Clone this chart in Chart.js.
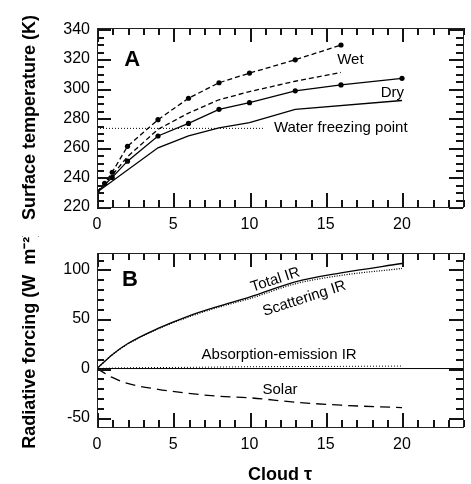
<!DOCTYPE html>
<html>
<head>
<meta charset="utf-8">
<script src="https://cdn.jsdelivr.net/npm/chart.js@4"></script>
<style>
  html, body { margin: 0; padding: 0; background: #fff; overflow: hidden; }
  #wrap { position: relative; width: 471px; height: 484px; }
  #chartA { position: absolute; left: 0; top: 0; }
  #chartB { position: absolute; left: 0; top: 236px; }
</style>
</head>
<body>
<div id="wrap">
  <canvas id="chartA" width="471" height="236"></canvas>
  <canvas id="chartB" width="471" height="248"></canvas>
</div>
<script>
// panel A: surface temperature vs cloud optical depth
const tauWetDots = [0, 0.5, 1, 2, 4, 6, 8, 10, 13, 16];
const tempWetDots = [230, 236, 243.5, 261, 279, 293.5, 304, 310.5, 319.5, 329.5];
const tauWet = [0, 1, 2, 4, 6, 8, 10, 13, 16];
const tempWet = [230, 241.5, 254, 272.5, 283.5, 292.5, 298, 305, 311];
const tauDryDots = [0, 1, 2, 4, 6, 8, 10, 13, 16, 20];
const tempDryDots = [230, 240, 251, 268, 276.5, 286, 290.5, 298.5, 302.5, 307];
const tauDry = [0, 4, 6, 8, 10, 13, 20];
const tempDry = [230, 260, 268, 273.5, 277, 286, 292];
const tauFreeze = [0, 11];
const tempFreeze = [273.15, 273.15];

// panel B: radiative forcing
const tauB = [0, 1, 2, 4, 6, 8, 10, 13, 16, 20];
const totalIR = [0, 14, 25, 40.5, 53, 63, 72, 87.5, 96.5, 106];
const scatIR = [0, 14, 24.5, 40, 52, 62, 70.5, 85.5, 94, 101];
const absIR = [0, 0.5, 0.8, 1, 1.2, 1.5, 1.8, 2, 2.2, 2.5];
const solar = [0, -9, -15, -21, -25, -28, -29.5, -34, -37, -39.5];
const tauZero = [0, 24];
const zeroLine = [0, 0];

// tick labels
const xTicks = [0, 5, 10, 15, 20];
const yTicksA = [220, 240, 260, 280, 300, 320, 340];
const yTicksB = [-50, 0, 50, 100];

const FONT = '"Liberation Sans", Arial, Helvetica, sans-serif';
Chart.defaults.font.family = FONT;
Chart.defaults.color = '#000';

const pts = (xs, ys) => xs.map((x, i) => ({ x: x, y: ys[i] }));

// inward ticks on all four sides + box + text labels
function frameTicks(cfg) {
  return {
    id: 'frameTicks',
    afterDraw(chart) {
      const ctx = chart.ctx;
      const area = chart.chartArea;
      const sx = chart.scales.x;
      const sy = chart.scales.y;
      const L = Math.round(area.left), R = Math.round(area.right);
      const T = Math.round(area.top), B = Math.round(area.bottom);
      const near = (v, step) => Math.abs(v / step - Math.round(v / step)) < 1e-6;
      ctx.save();
      ctx.fillStyle = 'rgb(20,20,20)';
      for (let i = 0; i <= 24; i++) {
        const len = near(i, cfg.xMajor) ? 14 : 7;
        const px = Math.round(sx.getPixelForValue(i));
        ctx.fillRect(px, B - len, 2, len);
        ctx.fillRect(px, T, 2, len);
      }
      const y0 = Math.ceil(sy.min / cfg.yMinor - 1e-9);
      const y1 = Math.floor(sy.max / cfg.yMinor + 1e-9);
      for (let i = y0; i <= y1; i++) {
        const v = i * cfg.yMinor;
        const len = near(v, cfg.yMajor) ? 14 : 7;
        const py = Math.round(sy.getPixelForValue(v));
        ctx.fillRect(L, py, len, 2);
        ctx.fillRect(R - len, py, len, 2);
      }
      ctx.fillStyle = '#222';
      ctx.fillRect(L, T, R - L + 1, 1);
      ctx.fillRect(L, B, R - L + 1, 1);
      ctx.fillRect(L, T, 1, B - T);
      ctx.fillRect(R, T, 1, B - T);

      ctx.fillStyle = '#000';
      ctx.textBaseline = 'middle';
      cfg.labels.forEach(l => {
        ctx.save();
        ctx.font = l.font;
        ctx.textAlign = l.align || 'left';
        ctx.translate(sx.getPixelForValue(l.x), sy.getPixelForValue(l.y));
        if (l.rotate) ctx.rotate(l.rotate * Math.PI / 180);
        ctx.fillText(l.text, 0, 0);
        ctx.restore();
      });
      ctx.restore();
    }
  };
}

function axes(yMin, yMax, yTicks, yTitle, xHeight, xTitle) {
  return {
    x: {
      type: 'linear', min: 0, max: 24,
      afterBuildTicks: s => { s.ticks = xTicks.map(v => ({ value: v })); },
      afterFit: s => { s.height = xHeight; },
      grid: { display: false, drawTicks: false },
      border: { display: false },
      ticks: { font: { size: 16 }, padding: 8, maxRotation: 0, autoSkip: false, color: '#000' },
      title: {
        display: !!xTitle, text: xTitle || '',
        font: { size: 18, weight: 'bold', lineHeight: 1 },
        padding: 0, color: '#000'
      }
    },
    y: {
      type: 'linear', min: yMin, max: yMax,
      afterBuildTicks: s => { s.ticks = yTicks.map(v => ({ value: v })); },
      afterFit: s => { s.width = 97; },
      grid: { display: false, drawTicks: false },
      border: { display: false },
      ticks: { font: { size: 16 }, padding: 7, autoSkip: false, color: '#000' },
      title: {
        display: true, text: yTitle,
        font: { size: 18, weight: 'bold' },
        padding: { top: 19, bottom: 0 }, color: '#000'
      }
    }
  };
}

const base = (extra) => Object.assign({
  fill: false, borderColor: '#000', borderWidth: 1.3,
  pointRadius: 0, pointBackgroundColor: '#000', pointBorderWidth: 0,
  tension: 0
}, extra);

new Chart(document.getElementById('chartA'), {
  type: 'line',
  data: {
    datasets: [
      base({ data: pts(tauWetDots, tempWetDots), borderDash: [5, 3], pointRadius: 2.6 }),
      base({ data: pts(tauWet, tempWet), borderDash: [5, 3] }),
      base({ data: pts(tauDryDots, tempDryDots), pointRadius: 2.6 }),
      base({ data: pts(tauDry, tempDry) }),
      base({ data: pts(tauFreeze, tempFreeze), borderDash: [1, 2], borderWidth: 1 })
    ]
  },
  options: {
    responsive: false, animation: false, devicePixelRatio: 1,
    layout: { padding: { left: 0, top: 28, right: 8, bottom: 0 } },
    plugins: { legend: { display: false }, tooltip: { enabled: false } },
    scales: axes(220, 341, yTicksA, 'Surface temperature (K)', 29, null)
  },
  plugins: [frameTicks({
    xMajor: 5, yMajor: 20, yMinor: 5,
    labels: [
      { text: 'A', x: 2.3, y: 319.5, align: 'center', font: 'bold 22px ' + FONT },
      { text: 'Wet', x: 15.75, y: 319.5, font: '15px ' + FONT },
      { text: 'Dry', x: 18.6, y: 297.2, font: '15px ' + FONT },
      { text: 'Water freezing point', x: 11.6, y: 273.4, font: '15px ' + FONT }
    ]
  })]
});

new Chart(document.getElementById('chartB'), {
  type: 'line',
  data: {
    datasets: [
      base({ data: pts(tauZero, zeroLine), borderWidth: 1 }),
      base({ data: pts(tauB, totalIR), cubicInterpolationMode: 'monotone' }),
      base({ data: pts(tauB, scatIR), borderDash: [1, 1.5], cubicInterpolationMode: 'monotone' }),
      base({ data: pts(tauB, absIR), borderDash: [1, 2], borderWidth: 1 }),
      base({ data: pts(tauB, solar), borderDash: [10, 6], cubicInterpolationMode: 'monotone' })
    ]
  },
  options: {
    responsive: false, animation: false, devicePixelRatio: 1,
    layout: { padding: { left: 0, top: 11, right: 8, bottom: 0 } },
    plugins: { legend: { display: false }, tooltip: { enabled: false } },
    scales: axes(-59, 117, yTicksB, 'Radiative forcing (W  m\u207B\u00B2)', 57, 'Cloud \u03C4')
  },
  plugins: [frameTicks({
    xMajor: 5, yMajor: 50, yMinor: 10,
    labels: [
      { text: 'B', x: 2.16, y: 89.7, align: 'center', font: 'bold 22px ' + FONT },
      { text: 'Total IR', x: 11.7, y: 89.5, align: 'center', rotate: -18, font: '15px ' + FONT },
      { text: 'Scattering IR', x: 13.6, y: 70.5, align: 'center', rotate: -18, font: '15px ' + FONT },
      { text: 'Absorption-emission IR', x: 6.86, y: 14.2, font: '15px ' + FONT },
      { text: 'Solar', x: 10.85, y: -22, font: '15px ' + FONT }
    ]
  })]
});
</script>
</body>
</html>
